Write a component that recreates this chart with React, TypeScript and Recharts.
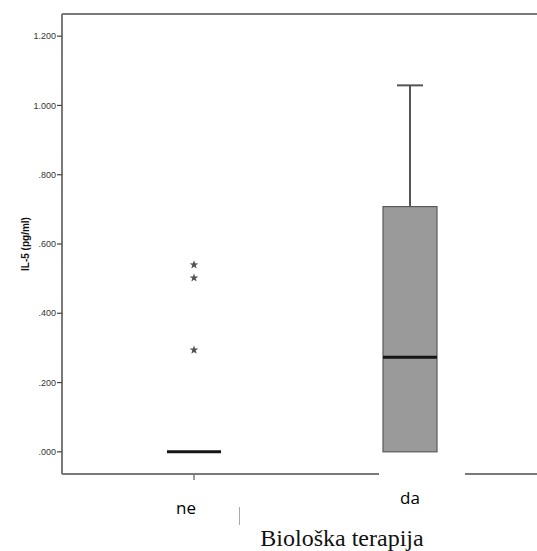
import React from 'react';
import { ComposedChart, Bar, Scatter, XAxis, YAxis, ReferenceLine } from 'recharts';

// IL-5 by biological therapy: quartiles, whisker ends and extreme values
const groups = ['ne', 'da'];
const q1 = [0, 0];
const medians = [0, 0.273];
const q3 = [0, 0.708];
const upperWhisker = [0, 1.058];
const outlierGroups = ['ne', 'ne', 'ne'];
const outlierValues = [0.54, 0.502, 0.294];
const yTicks = [0, 0.2, 0.4, 0.6, 0.8, 1.0, 1.2];
const yMin = -0.064;
const yMax = 1.264;

const boxData = groups.map((g, i) => ({
  group: g,
  box: [q1[i], q3[i]],
  whisker: [q3[i], upperWhisker[i]],
  median: medians[i],
}));

const outliers = outlierValues.map((v, i) => ({ group: outlierGroups[i], value: v }));

const AXIS = '#7a7a7a';

const fmt = (v: number) => (v >= 1 ? v.toFixed(3) : v.toFixed(3).replace(/^0/, ''));

// label placement under the axis, per category
const tickShift: Record<string, { dx: number; dy: number }> = {
  ne: { dx: -8, dy: 32 },
  da: { dx: 0, dy: 22 },
};

const GroupTick = (props: any) => {
  const { x, y, payload } = props;
  const s = tickShift[payload.value] || { dx: 0, dy: 20 };
  return (
    <text x={x + s.dx} y={y + s.dy} textAnchor="middle" fontFamily="Open Sans" fontSize={17} fill="#000">
      {payload.value}
    </text>
  );
};

const BoxShape = (props: any) => {
  const { x, y, width, height } = props;
  const top = Math.min(y, y + height);
  const h = Math.abs(height);
  if (h < 0.5) return null;
  return <rect x={x} y={top} width={width} height={h} fill="#9a9a9a" stroke="#5a5a5a" strokeWidth={1.2} />;
};

const WhiskerShape = (props: any) => {
  const { x, y, width, height } = props;
  const top = Math.min(y, y + height);
  const h = Math.abs(height);
  if (h < 0.5) return null;
  const cx = x + width / 2;
  return (
    <g stroke="#555" strokeWidth={2}>
      <line x1={cx} x2={cx} y1={top} y2={top + h} />
      <line x1={cx - 13} x2={cx + 13} y1={top} y2={top} />
    </g>
  );
};

const MedianShape = (props: any) => {
  const { cx, cy } = props;
  return <line x1={cx - 27} x2={cx + 27} y1={cy} y2={cy} stroke="#151515" strokeWidth={3} />;
};

const StarShape = (props: any) => {
  const { cx, cy } = props;
  const pts: string[] = [];
  for (let k = 0; k < 10; k++) {
    const r = k % 2 === 0 ? 4.5 : 1.9;
    const a = -Math.PI / 2 + (k * Math.PI) / 5;
    pts.push(`${cx + r * Math.cos(a)},${cy + r * Math.sin(a)}`);
  }
  return <polygon points={pts.join(' ')} fill="#555" />;
};

const App: React.FC = () => {
  return (
    <div style={{ position: 'absolute', left: 0, top: 0, width: 537, height: 551, background: '#fff', overflow: 'hidden' }}>
      <ComposedChart
        width={537}
        height={551}
        data={boxData}
        margin={{ top: 14, right: 0, left: 0, bottom: 47 }}
        barGap={-54}
      >
        <XAxis
          dataKey="group"
          type="category"
          allowDuplicatedCategory={false}
          padding={{ left: 24, right: 19 }}
          height={30}
          axisLine={{ stroke: AXIS, strokeWidth: 2 }}
          tickLine={{ stroke: AXIS, strokeWidth: 1.5 }}
          tickSize={6}
          tick={<GroupTick />}
          interval={0}
        />
        <YAxis
          type="number"
          domain={[yMin, yMax]}
          ticks={yTicks}
          tickFormatter={fmt}
          width={62}
          axisLine={{ stroke: AXIS, strokeWidth: 2 }}
          tickLine={{ stroke: '#444', strokeWidth: 1.2 }}
          tickSize={5}
          tickMargin={1}
          tick={{ fontFamily: 'Liberation Sans', fontSize: 9, fill: '#333' }}
          label={{
            value: 'IL-5 (pg/ml)',
            angle: -90,
            position: 'insideLeft',
            offset: 25,
            style: { textAnchor: 'middle', fontFamily: 'Liberation Sans', fontSize: 10, fontWeight: 'bold', fill: '#111' },
          }}
        />
        <ReferenceLine y={yMax} stroke={AXIS} strokeWidth={2} ifOverflow="visible" />
        <Bar dataKey="whisker" barSize={54} shape={<WhiskerShape />} isAnimationActive={false} />
        <Bar dataKey="box" barSize={54} shape={<BoxShape />} isAnimationActive={false} />
        <Scatter dataKey="median" data={boxData} shape={<MedianShape />} isAnimationActive={false} />
        <Scatter dataKey="value" data={outliers} shape={<StarShape />} isAnimationActive={false} />
      </ComposedChart>
      {/* gap in the axis line behind the "da" label */}
      <div style={{ position: 'absolute', left: 379, top: 469, width: 86, height: 12, background: '#fff' }} />
      <div style={{ position: 'absolute', left: 239, top: 507, width: 0, height: 18, borderLeft: '1px solid #aaa' }} />
      <div
        style={{
          position: 'absolute',
          left: 242,
          top: 525,
          width: 200,
          textAlign: 'center',
          fontFamily: 'Liberation Serif',
          fontSize: 24,
          color: '#111',
          lineHeight: '26px',
          whiteSpace: 'nowrap',
        }}
      >
        Biološka terapija
      </div>
    </div>
  );
};

export default App;
